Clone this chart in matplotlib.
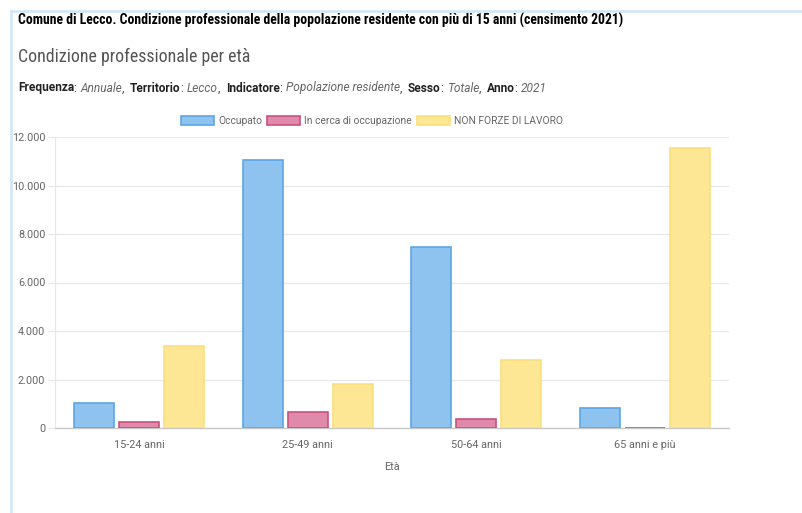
import matplotlib.pyplot as plt
import numpy as np
from matplotlib.lines import Line2D
from matplotlib.ticker import FuncFormatter

# Data
categories = ['15-24 anni', '25-49 anni', '50-64 anni', '65 anni e più']
occupato = [1030, 11050, 7450, 840]
in_cerca = [235, 670, 360, 20]
non_forze = [3380, 1800, 2800, 11530]
series_names = ['Occupato', 'In cerca di occupazione', 'NON FORZE DI LAVORO']

fills = ['#8ec3f0', '#df8aab', '#fde794']
edges = ['#5ba6e6', '#c9507f', '#fcdf7a']

plt.rcParams['font.family'] = ['Roboto', 'DejaVu Sans']

fig = plt.figure(figsize=(8.03, 5.13), dpi=100)
W, H = 803, 513

def fx(px):
    return px / W

def fy(py):
    return 1 - py / H

# light blue frame (left and top)
fig.add_artist(Line2D([fx(11), fx(11)], [fy(11), 0], color='#cfe5f8', lw=1.8))
fig.add_artist(Line2D([fx(11), 1], [fy(11), fy(11)], color='#cfe5f8', lw=1.8))

# header texts
fig.text(fx(18), fy(20), 'Comune di Lecco. Condizione professionale della popolazione residente con più di 15 anni (censimento 2021)',
         fontsize=9.95, fontweight='bold', color='black', va='center', family=['Roboto Condensed', 'Roboto', 'DejaVu Sans'])
fig.text(fx(18), fy(57), 'Condizione professionale per età', fontsize=12.9, color='#555555', va='center',
         family=['Roboto Condensed', 'Roboto', 'DejaVu Sans'])

parts = [('Frequenza', ': ', 'Annuale', ',  '), ('Territorio', ': ', 'Lecco', ',  '),
         ('Indicatore', ': ', 'Popolazione residente', ',  '), ('Sesso', ': ', 'Totale', ',  '),
         ('Anno', ': ', '2021', '')]
renderer = fig.canvas.get_renderer()
xpos = fx(18)
for label, sep, val, tail in parts:
    for txt, kw in [(label, dict(fontweight='bold', color='#222222')),
                    (sep, dict(color='#444444')),
                    (val, dict(style='italic', color='#666666')),
                    (tail, dict(color='#444444'))]:
        if not txt:
            continue
        t = fig.text(xpos, fy(88), txt, fontsize=8.55, va='center', **kw)
        bb = t.get_window_extent(renderer=renderer)
        xpos += bb.width / W

ax = fig.add_axes([fx(55), fy(428), fx(729) - fx(55), fy(137) - fy(428)])

x = np.arange(len(categories))
bw = 0.237
gap = 0.03
offsets = [-(bw + gap), 0, bw + gap]
for vals, off, fc, ec, name in zip([occupato, in_cerca, non_forze], offsets, fills, edges, series_names):
    ax.bar(x + off, vals, width=bw, color=fc, edgecolor=ec, linewidth=1.2, label=name, zorder=3)

ax.set_xlim(-0.5, len(categories) - 0.5)
ax.set_ylim(0, 12000)
ax.set_yticks(range(0, 12001, 2000))
ax.yaxis.set_major_formatter(FuncFormatter(lambda v, p: f'{int(v):,}'.replace(',', '.')))
ax.set_xticks(x)
ax.set_xticklabels(categories)
ax.tick_params(axis='y', length=5, color='#e6e6e6', labelsize=7.8, labelcolor='#666666', pad=2)
ax.tick_params(axis='x', length=0, labelsize=7.8, labelcolor='#666666', pad=9)
ax.grid(axis='y', color='#e8e8e8', linewidth=0.9, zorder=0)
for s in ['top', 'right']:
    ax.spines[s].set_visible(False)
ax.spines['left'].set_color('#e8e8e8')
ax.spines['bottom'].set_color('#c8c8c8')
ax.spines['bottom'].set_linewidth(1.0)
ax.set_xlabel('Età', fontsize=7.8, color='#666666', labelpad=8)

fig.legend(loc='center', bbox_to_anchor=(fx(372), fy(121)), ncol=3, frameon=False,
           fontsize=7.4, labelcolor='#666666', handlelength=3.2, handleheight=0.9,
           handletextpad=0.4, columnspacing=0.5, borderaxespad=0)

fig.savefig('out.png', dpi=100)
